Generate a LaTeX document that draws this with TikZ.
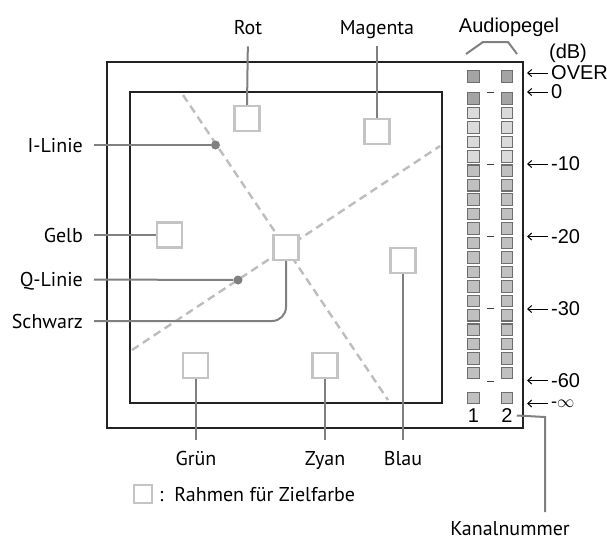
\documentclass[tikz,border=0pt]{standalone}
\usepackage{fontspec}
\setmainfont{PT Sans}
\newfontfamily\meterfont{Liberation Sans}
\usetikzlibrary{arrows.meta}
\definecolor{framegray}{HTML}{222222}
\definecolor{leadgray}{HTML}{808080}
\definecolor{tgtgray}{HTML}{C4C4C4}
\definecolor{dashgray}{HTML}{BDBDBD}
\definecolor{segdark}{HTML}{A4A4A4}
\definecolor{seglight}{HTML}{DADADA}
\definecolor{segmid}{HTML}{C0C0C0}
\definecolor{segedge}{HTML}{6E6E6E}

\begin{document}
\begin{tikzpicture}[x=1pt, y=-1pt,
  frame/.style={draw=framegray, line width=2.4pt},
  tgt/.style={draw=tgtgray, fill=white, line width=2.4pt, minimum size=25pt, inner sep=0pt},
  lead/.style={draw=leadgray, line width=2pt},
  iqline/.style={dashgray, line width=2.4pt, dash pattern=on 8pt off 5pt},
  dot/.style={circle, fill=leadgray, inner sep=0pt, minimum size=9pt},
  seg/.style={draw=segedge, line width=1.1pt, minimum size=11.5pt, inner sep=0pt},
  lbl/.style={font=\fontsize{20}{24}\selectfont, inner sep=0pt, text height=14pt, text depth=0pt},
  dblbl/.style={font=\meterfont\fontsize{20}{24}\selectfont, inner sep=0pt, text height=13pt, text depth=0pt},
  dbarrow/.style={-{Straight Barb[length=4pt, width=7pt]}, line width=1pt},
]
\useasboundingbox (0,0) rectangle (607,542);

% frames
\draw[frame] (107,62) rectangle (523,428);
\draw[frame] (130,92) rectangle (442,403);

% I and Q lines
\coordinate (i-top) at (183,95);
\coordinate (i-bot) at (388,400);
\coordinate (q-left) at (132,350);
\coordinate (q-right) at (440,146);
\draw[iqline] (i-top) -- (i-bot);
\draw[iqline] (q-left) -- (q-right);

% target frames
\node[tgt] (rot) at (247,118.5) {};
\node[tgt] (magenta) at (377,131.5) {};
\node[tgt] (gelb) at (169.5,235) {};
\node[tgt] (schwarz) at (286,247.5) {};
\node[tgt] (blau) at (403,260.5) {};
\node[tgt] (gruen) at (195.5,365.5) {};
\node[tgt] (zyan) at (325,365.5) {};
\node[dot] (idot) at (215.5,145) {};
\node[dot] (qdot) at (238,280) {};

% labels top
\node[lbl, anchor=north] (rot-lbl) at (248,20) {Rot};
\node[lbl, anchor=north] (magenta-lbl) at (377,20) {Magenta};
\draw[lead, shorten <=12pt] (rot-lbl.south) -- (rot.north);
\draw[lead, shorten <=12pt] (magenta-lbl.south -| magenta.north) -- (magenta.north);

% labels left
\node[lbl, anchor=east] (ilinie) at (83,145) {I-Linie};
\node[lbl, anchor=east] (gelb-lbl) at (83,235) {Gelb};
\node[lbl, anchor=east] (qlinie) at (83,279.5) {Q-Linie};
\node[lbl, anchor=east] (schwarz-lbl) at (83,321) {Schwarz};
\draw[lead, shorten <=11pt] (ilinie.east) -- (idot);
\draw[lead, shorten <=11pt] (gelb-lbl.east) -- (gelb.west);
\draw[lead, shorten <=11pt] (qlinie.east) -- (qdot);
\draw[lead, rounded corners=14pt] ([xshift=11pt]schwarz-lbl.east) -| (schwarz.south);

% labels bottom
\node[lbl, anchor=north] (gruen-lbl) at (196,451) {Grün};
\node[lbl, anchor=north] (zyan-lbl) at (325,451) {Zyan};
\node[lbl, anchor=north] (blau-lbl) at (403,451) {Blau};
\draw[lead, shorten >=11pt] (gruen.south) -- (gruen.south |- gruen-lbl.north);
\draw[lead, shorten >=11pt] (zyan.south) -- (zyan.south |- zyan-lbl.north);
\draw[lead, shorten >=11pt] (blau.south) -- (blau.south |- blau-lbl.north);

% key
\node[tgt, minimum size=18pt, line width=2pt] (key) at (142.5,494) {};
\node[lbl, anchor=west] (key-lbl) at (159,494) {:\ \ Rahmen für Zielfarbe};

% audio level meter
\foreach \x in {473.5,507} {
  \node[seg, fill=segdark] at (\x,76.5) {};
  \node[seg, fill=segdark] at (\x,98.5) {};
  \foreach \i in {1,...,4}
    \node[seg, fill=seglight] at (\x,98.5+14.45*\i) {};
  \foreach \i in {5,...,19}
    \node[seg, fill=segmid] at (\x,98.5+14.45*\i) {};
  \node[seg, fill=segmid] at (\x,398) {};
}
\foreach \k in {0,...,4}
  \draw[black!75, line width=0.8pt] (487,92+72.25*\k) -- (494,92+72.25*\k);

\node[dblbl, anchor=center] (ch1) at (473.5,415.5) {1};
\node[dblbl, anchor=center] (ch2) at (507,415.5) {2};

\node[dblbl, anchor=north] (audio) at (509,19) {Audiopegel};
\node[dblbl, anchor=north] (dB) at (568,45) {(dB)};
\draw[lead] (466,54) -- (483,42) -- (508,42) -- (517,54);

\foreach \y/\t/\n in {73/OVER/over, 92/0/db0, 164/-10/db10, 236.5/-20/db20,
                      309/-30/db30, 380.5/-60/db60} {
  \node[dblbl, anchor=west] (\n) at (551,\y) {\t};
  \coordinate (\n-tip) at (527,\y);
  \draw[dbarrow, shorten <=3pt] (\n.west) -- (\n-tip);
}
\node[font=\meterfont\fontsize{18}{20}\selectfont, inner sep=0pt, anchor=west] (dbinf) at (551,403.5) {-$\infty$};
\coordinate (dbinf-tip) at (527,403.5);
\draw[dbarrow, shorten <=3pt] (dbinf.west) -- (dbinf-tip);

% channel number
\node[lbl, anchor=north] (kanal) at (510,521) {Kanalnummer};
\coordinate (kanal-bend) at (545,417);
\draw[lead, shorten >=9pt] ([xshift=4pt]ch2.east) -- (kanal-bend) -- (kanal-bend |- kanal.north);

\end{tikzpicture}
\end{document}
